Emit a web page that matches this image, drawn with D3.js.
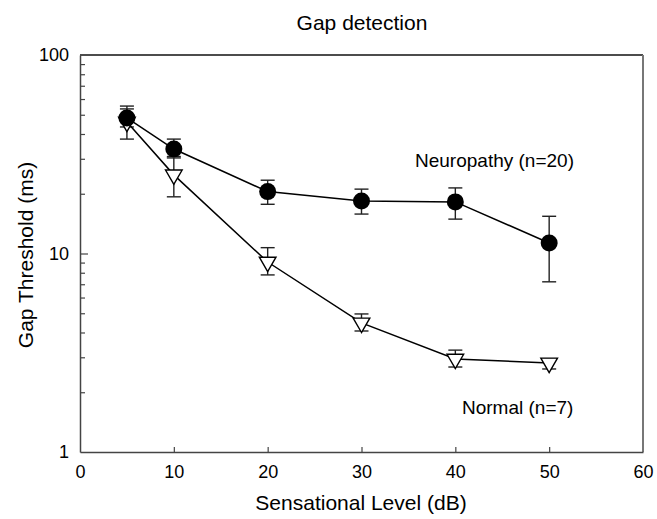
<!DOCTYPE html>
<html>
<head>
<meta charset="utf-8">
<script src="https://cdn.jsdelivr.net/npm/d3@7"></script>
<style>
  html, body { margin: 0; padding: 0; background: #fff; }
  svg { display: block; font-family: "Liberation Sans", Arial, sans-serif; }
</style>
</head>
<body>
<svg id="chart" width="657" height="519"></svg>
<script>
// Sensation levels (dB)
const levels = [5, 10, 20, 30, 40, 50];

// Gap thresholds (ms): mean, upper and lower error limits
const neuroMean  = [48.2, 33.6, 20.5, 18.4, 18.2, 11.3];
const neuroUpper = [55.3, 37.7, 23.4, 21.1, 21.4, 15.4];
const neuroLower = [43.4, 30.8, 17.7, 15.8, 14.9, 7.2];

const normalMean  = [46.0, 24.9, 9.06, 4.47, 2.94, 2.81];
const normalUpper = [53.5, 30.3, 10.7, 4.96, 3.26, 2.94];
const normalLower = [37.7, 19.3, 7.8, 4.07, 2.68, 2.62];

const xTicks = [0, 10, 20, 30, 40, 50, 60];
const yTicks = [1, 10, 100];
const yMinor = [2, 3, 4, 5, 6, 7, 8, 9, 20, 30, 40, 50, 60, 70, 80, 90];

const svg = d3.select("#chart");
const plotL = 80, plotR = 643, plotT = 55, plotB = 452;

const x = d3.scaleLinear().domain([0, 60]).range([plotL, plotR]);
const y = d3.scaleLog().domain([1, 100]).range([plotB, plotT]);

// Frame
svg.append("line").attr("x1", plotL).attr("x2", plotR).attr("y1", plotT).attr("y2", plotT)
  .attr("stroke", "#111").attr("stroke-width", 1.3);
svg.append("line").attr("x1", plotR).attr("x2", plotR).attr("y1", plotT).attr("y2", plotB)
  .attr("stroke", "#777").attr("stroke-width", 2);

// Axes with inward ticks
const xAxis = d3.axisBottom(x).tickValues(xTicks).tickSizeInner(-5).tickSizeOuter(0).tickPadding(13);
const gx = svg.append("g").attr("transform", `translate(0,${plotB})`).call(xAxis);

const yAxis = d3.axisLeft(y).tickValues(yTicks).tickFormat(d3.format("d"))
  .tickSizeInner(-8).tickSizeOuter(0).tickPadding(11);
const gy = svg.append("g").attr("transform", `translate(${plotL},0)`).call(yAxis);

const yAxisMinor = d3.axisLeft(y).tickValues(yMinor).tickFormat("").tickSizeInner(-5).tickSizeOuter(0);
const gym = svg.append("g").attr("transform", `translate(${plotL},0)`).call(yAxisMinor);
gym.select(".domain").remove();

[gx, gy, gym].forEach(g => {
  g.selectAll("path.domain").attr("stroke", "#444").attr("stroke-width", 1.5);
  g.selectAll(".tick line").attr("stroke", "#444").attr("stroke-width", 1.2);
  g.selectAll(".tick text").attr("fill", "#000").style("font-size", "18px")
    .style("font-family", "'Liberation Sans', Arial, sans-serif");
});
gx.selectAll(".tick").filter(d => d === 0 || d === 60).select("line").remove();
gy.selectAll(".tick").filter(d => d === 1 || d === 100).select("line").remove();

// Titles
svg.append("text").attr("x", 362).attr("y", 30).attr("text-anchor", "middle")
  .style("font-size", "21px").text("Gap detection");
svg.append("text").attr("x", 361).attr("y", 510).attr("text-anchor", "middle")
  .style("font-size", "21px").text("Sensational Level (dB)");
svg.append("text").attr("transform", "translate(33,255) rotate(-90)").attr("text-anchor", "middle")
  .style("font-size", "21px").text("Gap Threshold (ms)");

const line = d3.line().x(d => x(d.level)).y(d => y(d.mean));

function series(means, uppers, lowers) {
  return levels.map((l, i) => ({ level: l, mean: means[i], upper: uppers[i], lower: lowers[i] }));
}
const neuro = series(neuroMean, neuroUpper, neuroLower);
const normal = series(normalMean, normalUpper, normalLower);

function drawErrors(data) {
  const g = svg.append("g").attr("stroke", "#222").attr("stroke-width", 1.4);
  data.forEach(d => {
    g.append("line").attr("x1", x(d.level)).attr("x2", x(d.level)).attr("y1", y(d.upper)).attr("y2", y(d.lower));
    [d.upper, d.lower].forEach(v => {
      g.append("line").attr("x1", x(d.level) - 7).attr("x2", x(d.level) + 7).attr("y1", y(v)).attr("y2", y(v));
    });
  });
}

drawErrors(normal);
drawErrors(neuro);

svg.append("path").datum(normal).attr("d", line).attr("fill", "none").attr("stroke", "#000").attr("stroke-width", 1.5);
svg.append("path").datum(neuro).attr("d", line).attr("fill", "none").attr("stroke", "#000").attr("stroke-width", 1.5);

// Normal: open downward triangles
const tri = d3.symbol().type(d3.symbolTriangle).size(120);
svg.selectAll(".tri").data(normal).join("path")
  .attr("transform", d => `translate(${x(d.level)},${y(d.mean)}) rotate(180)`)
  .attr("d", tri).attr("fill", "#fff").attr("stroke", "#000").attr("stroke-width", 1.4);

// Neuropathy: filled circles
svg.selectAll(".dot").data(neuro).join("circle")
  .attr("cx", d => x(d.level)).attr("cy", d => y(d.mean)).attr("r", 8.5).attr("fill", "#000");

// Series labels
svg.append("text").attr("x", 415).attr("y", 167).style("font-size", "19px").text("Neuropathy (n=20)");
svg.append("text").attr("x", 462).attr("y", 414).style("font-size", "19px").text("Normal (n=7)");
</script>
</body>
</html>
